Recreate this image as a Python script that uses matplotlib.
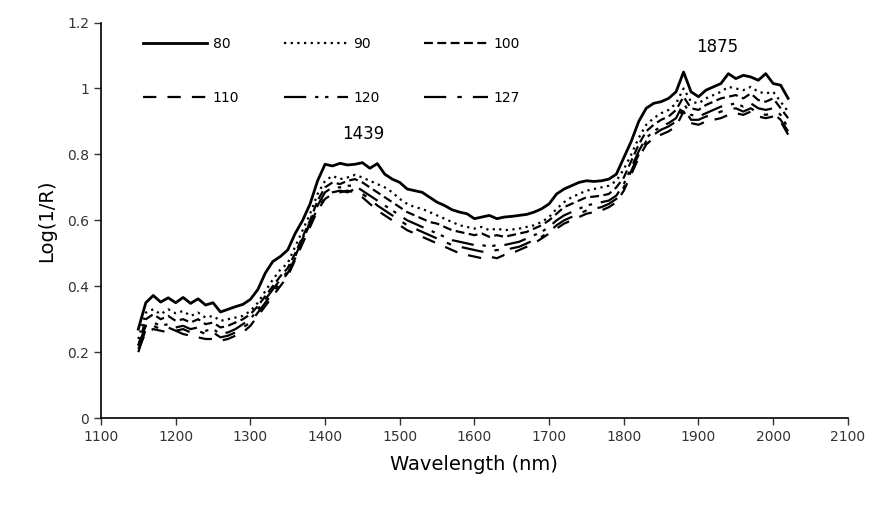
import numpy as np
import matplotlib
matplotlib.use("Agg")
import matplotlib.pyplot as plt

# wavelength grid (nm), 10 nm steps
wl = np.arange(1150, 2021, 10)

s80 = [0.27, 0.35, 0.372, 0.352, 0.365, 0.350, 0.366, 0.348, 0.362, 0.343,
       0.350, 0.322, 0.330, 0.338, 0.345, 0.36, 0.39, 0.44, 0.475, 0.49,
       0.51, 0.56, 0.60, 0.65, 0.72, 0.77, 0.765, 0.773, 0.768, 0.770,
       0.775, 0.758, 0.772, 0.74, 0.725, 0.715, 0.695, 0.69, 0.685, 0.67,
       0.655, 0.645, 0.632, 0.625, 0.62, 0.605, 0.61, 0.615, 0.605, 0.61,
       0.612, 0.615, 0.618, 0.625, 0.635, 0.65, 0.68, 0.695, 0.705, 0.715,
       0.72, 0.718, 0.72, 0.725, 0.74, 0.79, 0.84, 0.90, 0.94, 0.955,
       0.96, 0.97, 0.99, 1.05, 0.99, 0.975, 0.995, 1.005, 1.015, 1.045,
       1.03, 1.04, 1.035, 1.025, 1.045, 1.015, 1.01, 0.97]
s90 = [0.24, 0.32, 0.33, 0.315, 0.33, 0.318, 0.325, 0.31, 0.32, 0.305,
       0.31, 0.295, 0.30, 0.305, 0.31, 0.325, 0.35, 0.385, 0.42, 0.45,
       0.47, 0.52, 0.57, 0.62, 0.68, 0.72, 0.735, 0.725, 0.73, 0.738,
       0.73, 0.72, 0.71, 0.70, 0.685, 0.665, 0.65, 0.64, 0.635, 0.625,
       0.615, 0.605, 0.595, 0.585, 0.58, 0.575, 0.58, 0.57, 0.575, 0.57,
       0.572, 0.575, 0.58, 0.585, 0.595, 0.61, 0.635, 0.655, 0.67, 0.68,
       0.69, 0.695, 0.70, 0.705, 0.72, 0.755, 0.80, 0.85, 0.89, 0.91,
       0.925, 0.935, 0.955, 1.0, 0.96, 0.955, 0.97, 0.98, 0.99, 1.005,
       1.0, 0.995, 1.005, 0.99, 0.985, 0.99, 0.96, 0.93]
s100 = [0.22, 0.30, 0.315, 0.30, 0.31, 0.295, 0.30, 0.29, 0.30, 0.285,
        0.29, 0.275, 0.28, 0.29, 0.30, 0.315, 0.34, 0.37, 0.40, 0.43,
        0.455, 0.50, 0.55, 0.60, 0.66, 0.70, 0.715, 0.71, 0.72, 0.725,
        0.715, 0.70, 0.685, 0.67, 0.655, 0.64, 0.625, 0.615, 0.605, 0.595,
        0.59, 0.58, 0.57, 0.565, 0.56, 0.555, 0.56, 0.55, 0.555, 0.55,
        0.555, 0.56, 0.565, 0.575, 0.585, 0.60, 0.62, 0.64, 0.65, 0.66,
        0.67, 0.672, 0.675, 0.68, 0.70, 0.73, 0.78, 0.83, 0.87, 0.89,
        0.905, 0.915, 0.935, 0.975, 0.94, 0.935, 0.95, 0.96, 0.97, 0.975,
        0.98, 0.97, 0.985, 0.965, 0.96, 0.97, 0.94, 0.91]
s110 = [0.21, 0.26, 0.27, 0.265, 0.26, 0.265, 0.255, 0.25, 0.245, 0.24,
        0.24, 0.235, 0.24, 0.25, 0.26, 0.28, 0.31, 0.34, 0.37, 0.40,
        0.43, 0.48, 0.53, 0.58, 0.63, 0.665, 0.68, 0.685, 0.69, 0.685,
        0.67, 0.65, 0.63, 0.615, 0.60, 0.585, 0.57, 0.56, 0.55, 0.54,
        0.53, 0.52, 0.51, 0.50, 0.495, 0.49, 0.485, 0.49, 0.485, 0.495,
        0.50, 0.51, 0.52, 0.53, 0.545, 0.56, 0.575, 0.59, 0.60, 0.61,
        0.62, 0.625, 0.63, 0.64, 0.655, 0.69, 0.74, 0.79, 0.83, 0.85,
        0.86, 0.87, 0.885, 0.93, 0.895, 0.89, 0.90, 0.905, 0.91, 0.92,
        0.925, 0.92, 0.93, 0.915, 0.91, 0.915, 0.90, 0.86]
s120 = [0.22, 0.28, 0.29, 0.28, 0.285, 0.275, 0.28, 0.27, 0.275, 0.265,
        0.27, 0.255, 0.26, 0.27, 0.285, 0.30, 0.33, 0.36, 0.39, 0.42,
        0.445, 0.49, 0.545, 0.595, 0.645, 0.685, 0.70, 0.70, 0.705, 0.705,
        0.69, 0.675, 0.66, 0.645, 0.63, 0.615, 0.60, 0.59, 0.58, 0.57,
        0.56, 0.55, 0.54, 0.535, 0.53, 0.525, 0.525, 0.52, 0.525, 0.525,
        0.53, 0.535, 0.545, 0.555, 0.565, 0.58, 0.60, 0.615, 0.625, 0.635,
        0.645, 0.65, 0.655, 0.66, 0.675, 0.71, 0.76, 0.81, 0.85, 0.87,
        0.885, 0.895, 0.91, 0.955, 0.92, 0.915, 0.925, 0.935, 0.945, 0.95,
        0.955, 0.945, 0.955, 0.94, 0.935, 0.94, 0.92, 0.88]
s127 = [0.20, 0.27, 0.28, 0.27, 0.275, 0.265, 0.27, 0.26, 0.265, 0.255,
        0.26, 0.245, 0.25, 0.26, 0.275, 0.29, 0.32, 0.35, 0.38, 0.41,
        0.44, 0.485, 0.54, 0.59, 0.635, 0.67, 0.685, 0.69, 0.685, 0.695,
        0.68, 0.665, 0.645, 0.63, 0.615, 0.60, 0.585, 0.575, 0.565, 0.555,
        0.545, 0.535, 0.525, 0.52, 0.515, 0.51, 0.505, 0.505, 0.51, 0.51,
        0.515, 0.52, 0.53, 0.54, 0.55, 0.565, 0.585, 0.60, 0.61, 0.62,
        0.63, 0.635, 0.64, 0.65, 0.665, 0.70, 0.75, 0.80, 0.84, 0.86,
        0.875, 0.885, 0.90, 0.94, 0.905, 0.905, 0.915, 0.92, 0.93, 0.935,
        0.94, 0.93, 0.94, 0.925, 0.92, 0.925, 0.905, 0.87]

labels = ["80", "90", "100", "110", "120", "127"]
series = [s80, s90, s100, s110, s120, s127]
styles = ["-", (0, (1, 2)), (0, (4, 2)), (0, (6, 5)),
          (0, (10, 4, 1.5, 3, 1.5, 4)), (0, (10, 5, 2, 5))]
widths = [2.0, 1.6, 1.6, 1.6, 1.6, 1.6]

fig = plt.figure(figsize=(8.75, 5.13), dpi=100)
ax = fig.add_axes([0.1154, 0.185, 0.8536, 0.771])

lines = []
for y, lab, ls, lw in zip(series, labels, styles, widths):
    ln, = ax.plot(wl, y, color="black", linestyle=ls, linewidth=lw, label=lab)
    lines.append(ln)

ax.set_xlim(1100, 2100)
ax.set_ylim(0, 1.2)
ax.set_xticks(range(1100, 2101, 100))
ax.set_yticks([0, 0.2, 0.4, 0.6, 0.8, 1.0, 1.2])
ax.set_yticklabels(["0", "0.2", "0.4", "0.6", "0.8", "1", "1.2"])
for side in ["top", "right"]:
    ax.spines[side].set_visible(False)
for side in ["left", "bottom"]:
    ax.spines[side].set_linewidth(1.2)
ax.tick_params(direction="out", length=5, width=1, labelsize=10, colors="#333333")
ax.set_xlabel("Wavelength (nm)", fontsize=14, labelpad=8)
ax.set_ylabel("Log(1/R)", fontsize=14, labelpad=8)

ax.text(1451, 0.835, "1439", fontsize=12, ha="center", va="bottom")
ax.text(1925, 1.10, "1875", fontsize=12, ha="center", va="bottom")

# legend fills column by column; reorder so rows read 80 90 100 / 110 120 127
order = [0, 3, 1, 4, 2, 5]
ax.legend([lines[i] for i in order], [labels[i] for i in order],
          ncol=3, frameon=False, loc="upper left", bbox_to_anchor=(0.04, 0.995),
          handlelength=4.6, columnspacing=3.2, labelspacing=2.9,
          handletextpad=0.4, fontsize=10)

fig.savefig("out.png", dpi=100)
